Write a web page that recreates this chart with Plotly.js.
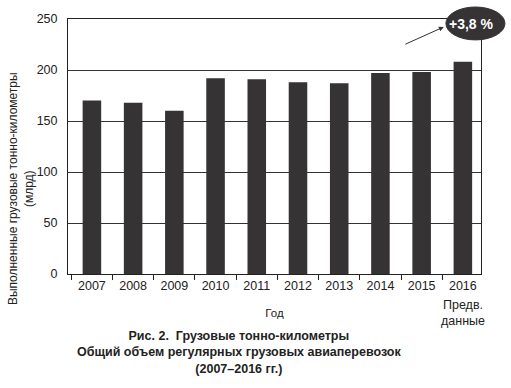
<!DOCTYPE html>
<html>
<head>
<meta charset="utf-8">
<script src="https://cdn.plot.ly/plotly-3.0.1.min.js"></script>
<style>html,body{margin:0;padding:0;background:#fff;}#chart{width:511px;height:388px;}</style>
</head>
<body>
<div id="chart"></div>
<script>
const years = ['2007','2008','2009','2010','2011','2012','2013','2014','2015','2016'];
const ftk = [170, 168, 160, 192, 191, 188, 187, 197, 198, 208];
const yTicks = [0, 50, 100, 150, 200, 250];
const badgeText = '+3,8 %';
const prelimText = 'Предв.<br>данные';
const xTitle = 'Год';
const yTitle = 'Выполненные грузовые тонно-километры<br>(млрд)';
const caption = '<b>Рис. 2.  Грузовые тонно-километры<br>Общий объем регулярных грузовых авиаперевозок<br>(2007–2016 гг.)</b>';

const FONT = 'Liberation Sans, Arial, sans-serif';
const ink = '#222';

const trace = {
  type: 'bar', x: years, y: ftk, width: 0.45,
  marker: {color: '#353333', line: {width: 0}},
  hoverinfo: 'skip'
};

const layout = {
  width: 511, height: 388,
  margin: {l: 68, r: 30, t: 19, b: 114},
  paper_bgcolor: '#fff', plot_bgcolor: '#fff',
  font: {family: FONT, size: 12.5, color: ink},
  showlegend: false,
  xaxis: {
    type: 'category', range: [-0.58, 9.44],
    showline: true, linecolor: '#222', linewidth: 1, mirror: true,
    ticks: 'outside', tickson: 'boundaries', ticklen: 5, tickcolor: '#222',
    showgrid: false, zeroline: false,
    tickfont: {family: FONT, size: 12.5, color: ink},
    title: {text: xTitle, font: {family: FONT, size: 11.5, color: ink}, standoff: 16},
    automargin: false, fixedrange: true
  },
  yaxis: {
    range: [0, 250], tickvals: yTicks,
    showline: true, linecolor: '#222', linewidth: 1, mirror: true,
    ticks: '', ticklabelstandoff: 7,
    showgrid: true, gridcolor: '#333', gridwidth: 1, zeroline: false,
    tickfont: {family: FONT, size: 12.5, color: ink},
    automargin: false, fixedrange: true
  },
  shapes: [
    {type: 'circle', xref: 'paper', yref: 'paper', layer: 'above',
     x0: 0.915, x1: 1.058, y0: 0.918, y1: 1.047,
     fillcolor: '#353333', line: {color: '#353333', width: 1}}
  ],
  annotations: [
    {xref: 'paper', yref: 'paper', x: -0.115, y: 0.335, text: yTitle, textangle: -90,
     showarrow: false, xanchor: 'center', yanchor: 'middle', align: 'center',
     font: {family: FONT, size: 12, color: ink}},
    {xref: 'paper', yref: 'paper', x: 0.978, y: 0.982, text: '<b>' + badgeText + '</b>',
     showarrow: false, font: {family: FONT, size: 14, color: '#fff'}, xanchor: 'center', yanchor: 'middle'},
    {xref: 'paper', yref: 'paper', x: 0.910, y: 0.969, text: '', showarrow: true,
     ax: -40, ay: 18, arrowhead: 2, arrowsize: 1, arrowwidth: 1, arrowcolor: '#333', standoff: 0},
    {xref: 'paper', yref: 'paper', x: 0.956, y: -0.085, text: prelimText, showarrow: false,
     yanchor: 'top', xanchor: 'center', align: 'center',
     font: {family: FONT, size: 12.5, color: ink}},
    {xref: 'paper', yref: 'paper', x: 0.415, y: -0.207, text: caption, showarrow: false,
     yanchor: 'top', xanchor: 'center', align: 'center',
     font: {family: FONT, size: 12.5, color: ink}}
  ]
};

Plotly.newPlot('chart', [trace], layout, {displayModeBar: false, staticPlot: true});
</script>
</body>
</html>
